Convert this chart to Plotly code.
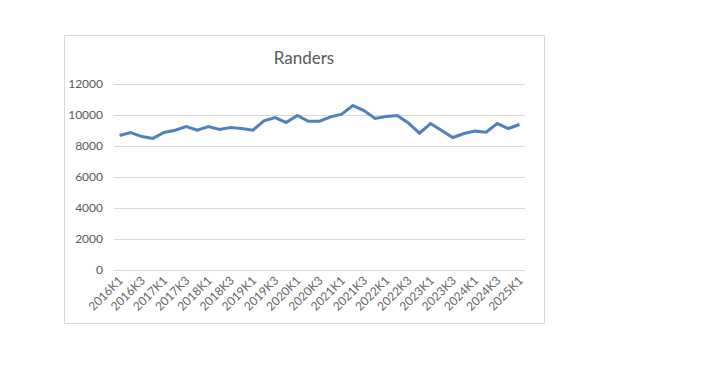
import plotly.graph_objects as go

quarters = [f"{y}K{q}" for y in range(2016, 2025) for q in range(1, 5)] + ["2025K1"]
values = [8690, 8880, 8620, 8500, 8880, 9030, 9270, 9030, 9270, 9080, 9200, 9140,
          9030, 9630, 9850, 9530, 9980, 9610, 9610, 9890, 10070, 10620, 10300, 9790,
          9910, 9980, 9500, 8840, 9460, 8990, 8560, 8820, 8970, 8900, 9460, 9140, 9400]
y_ticks = [0, 2000, 4000, 6000, 8000, 10000, 12000]

W, H = 716, 371
L, R, T, B = 114, 525, 83, 270
pw, ph = R - L, B - T

fig = go.Figure()
fig.add_trace(go.Scatter(
    x=list(range(len(quarters))), y=values, mode="lines",
    line=dict(color="#4f81bd", width=3), hoverinfo="skip", showlegend=False))

fig.update_layout(
    width=W, height=H,
    margin=dict(l=L, r=W - R, t=T, b=H - B),
    paper_bgcolor="white", plot_bgcolor="white",
    font=dict(family="Lato, Liberation Sans, sans-serif", color="#595959", size=12),
    title=dict(text="Randers", x=(304) / W, xanchor="center", y=1 - 58 / H, yanchor="middle",
               font=dict(size=17, color="#595959")),
    xaxis=dict(range=[-0.5, len(quarters) - 0.5], tickvals=list(range(0, len(quarters), 2)),
               ticktext=quarters[::2], tickangle=-45, showgrid=False, zeroline=False,
               showline=False, ticks="", tickfont=dict(size=12, color="#666666")),
    yaxis=dict(range=[0, 12080], tickvals=y_ticks, ticktext=[str(v) for v in y_ticks],
               showgrid=True, gridcolor="#d9d9d9",
               gridwidth=1, zeroline=True, zerolinecolor="#d9d9d9", zerolinewidth=1,
               showline=False, ticks="", ticklabelstandoff=10,
               tickfont=dict(size=12, color="#595959")),
    shapes=[dict(type="rect", xref="paper", yref="paper",
                 x0=(64.5 - L) / pw, x1=(544.5 - L) / pw,
                 y0=(B - 323.5) / ph, y1=(B - 35.5) / ph,
                 line=dict(color="#d9d9d9", width=1), fillcolor="rgba(0,0,0,0)", layer="below")],
)

fig.write_html("out.html")
